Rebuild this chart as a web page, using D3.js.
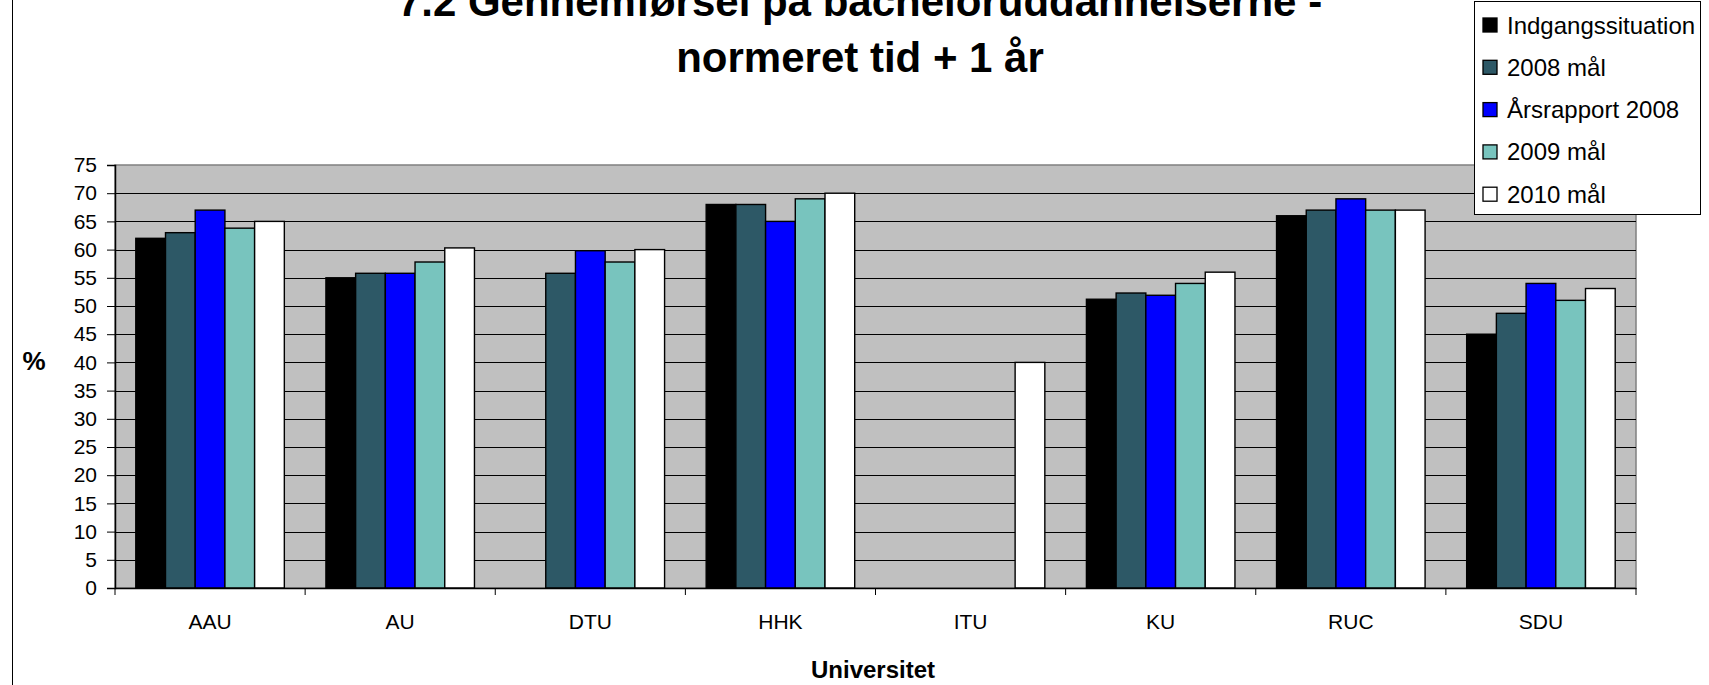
<!DOCTYPE html>
<html lang="da">
<meta charset="utf-8">
<style>
  body { margin: 0; background: #fff; }
  svg text { font-family: "Liberation Sans", Arial, sans-serif; }
</style>
<body>
<div id="chart"></div>

<script src="https://d3js.org/d3.v7.min.js"></script>
<script>

// data
var universities = ["AAU", "AU", "DTU", "HHK", "ITU", "KU", "RUC", "SDU"];
var seriesNames = ["Indgangssituation", "2008 mål", "Årsrapport 2008", "2009 mål", "2010 mål"];
var seriesColors = ["#000000", "#2d5866", "#0000ff", "#78c4be", "#ffffff"];

var indgang   = [62,   55,   null, 68, null, 51.2, 66, 45];
var maal2008  = [63,   55.8, 55.8, 68, null, 52.3, 67, 48.7];
var aars2008  = [67,   55.8, 59.8, 65, null, 51.9, 69, 54];
var maal2009  = [63.8, 57.8, 57.8, 69, null, 54,   67, 51];
var maal2010  = [65,   60.3, 60,   70, 40,   56,   67, 53.1];

var yTicks = d3.range(0, 80, 5);

var allSeries = [indgang, maal2008, aars2008, maal2009, maal2010];

var W = 1709, H = 685;
var plot = {left: 115, right: 1636, top: 165, bottom: 588};

var svg = d3.select("#chart").append("svg")
  .attr("width", W)
  .attr("height", H);

// outer chart border (only left edge visible)
svg.append("line")
  .attr("x1", 12.5).attr("x2", 12.5)
  .attr("y1", 0).attr("y2", H)
  .attr("stroke", "#000");

var x0 = d3.scaleBand()
  .domain(universities)
  .range([plot.left, plot.right]);

var x1 = d3.scaleBand()
  .domain(seriesNames)
  .range([0, x0.bandwidth()])
  .paddingOuter(0.7);

var y = d3.scaleLinear()
  .domain([0, 75])
  .range([plot.bottom, plot.top]);

// plot background
svg.append("rect")
  .attr("x", plot.left)
  .attr("y", plot.top)
  .attr("width", plot.right - plot.left)
  .attr("height", plot.bottom - plot.top)
  .attr("fill", "#c0c0c0")
  .attr("stroke", "#808080")
  .attr("stroke-width", 1.5);

// gridlines
svg.append("g")
  .selectAll("line")
  .data(yTicks.filter(function(d) { return d > 0 && d < 75; }))
  .enter().append("line")
    .attr("x1", plot.left).attr("x2", plot.right)
    .attr("y1", function(d) { return Math.round(y(d)) + 0.5; })
    .attr("y2", function(d) { return Math.round(y(d)) + 0.5; })
    .attr("stroke", "#000")
    .attr("stroke-width", 1.2);

// bars
var groups = svg.append("g")
  .selectAll("g")
  .data(universities)
  .enter().append("g")
    .attr("transform", function(d) { return "translate(" + x0(d) + ",0)"; });

groups.selectAll("rect")
  .data(function(d, i) {
    return seriesNames.map(function(s, j) {
      return {series: s, value: allSeries[j][i], color: seriesColors[j]};
    }).filter(function(e) { return e.value != null; });
  })
  .enter().append("rect")
    .attr("x", function(d) { return x1(d.series); })
    .attr("y", function(d) { return y(d.value); })
    .attr("width", x1.bandwidth())
    .attr("height", function(d) { return y(0) - y(d.value); })
    .attr("fill", function(d) { return d.color; })
    .attr("stroke", "#000")
    .attr("stroke-width", 1.4);

// y axis
var yAxis = svg.append("g")
  .attr("transform", "translate(" + plot.left + ",0)")
  .call(d3.axisLeft(y).tickValues(yTicks).tickSize(8).tickPadding(10));
yAxis.select(".domain").attr("stroke", "#000").attr("stroke-width", 1.5);
yAxis.selectAll("text").attr("font-size", 21).attr("fill", "#000")
  .attr("font-family", "Liberation Sans, Arial, sans-serif");

// x axis
var xAxis = svg.append("g")
  .attr("transform", "translate(0," + plot.bottom + ")")
  .call(d3.axisBottom(x0).tickSize(0).tickPadding(26));
xAxis.select(".domain").attr("stroke", "#000").attr("stroke-width", 1.5);
xAxis.selectAll("text").attr("font-size", 21).attr("fill", "#000")
  .attr("font-family", "Liberation Sans, Arial, sans-serif");

// tick marks between categories
xAxis.selectAll(".sep")
  .data(universities.concat(["end"]))
  .enter().append("line")
    .attr("x1", function(d, i) { return plot.left + i * x0.step(); })
    .attr("x2", function(d, i) { return plot.left + i * x0.step(); })
    .attr("y1", 0).attr("y2", 7)
    .attr("stroke", "#000");

// title
var title = svg.append("text")
  .attr("text-anchor", "middle")
  .attr("font-weight", "bold")
  .attr("font-size", 42);
title.append("tspan").attr("x", 860).attr("y", 16).text("7.2 Gennemførsel på bacheloruddannelserne -");
title.append("tspan").attr("x", 860).attr("y", 72).text("normeret tid + 1 år");

// axis titles
svg.append("text")
  .attr("x", 873).attr("y", 678)
  .attr("text-anchor", "middle")
  .attr("font-weight", "bold")
  .attr("font-size", 24)
  .text("Universitet");

svg.append("text")
  .attr("x", 34).attr("y", 370)
  .attr("text-anchor", "middle")
  .attr("font-weight", "bold")
  .attr("font-size", 26)
  .text("%");

// legend
var legend = svg.append("g");
legend.append("rect")
  .attr("x", 1474.5).attr("y", 1.5)
  .attr("width", 226).attr("height", 213)
  .attr("fill", "#fff")
  .attr("stroke", "#000");

var rows = legend.selectAll(".row")
  .data(seriesNames)
  .enter().append("g")
    .attr("transform", function(d, i) { return "translate(1483," + (25 + i * 42.3) + ")"; });

rows.append("rect")
  .attr("x", 0).attr("y", -7)
  .attr("width", 14).attr("height", 14)
  .attr("fill", function(d, i) { return seriesColors[i]; })
  .attr("stroke", "#000")
  .attr("stroke-width", 1.3);

rows.append("text")
  .attr("x", 24).attr("y", 8.5)
  .attr("font-size", 24)
  .text(function(d) { return d; });

</script>
</body>
</html>
